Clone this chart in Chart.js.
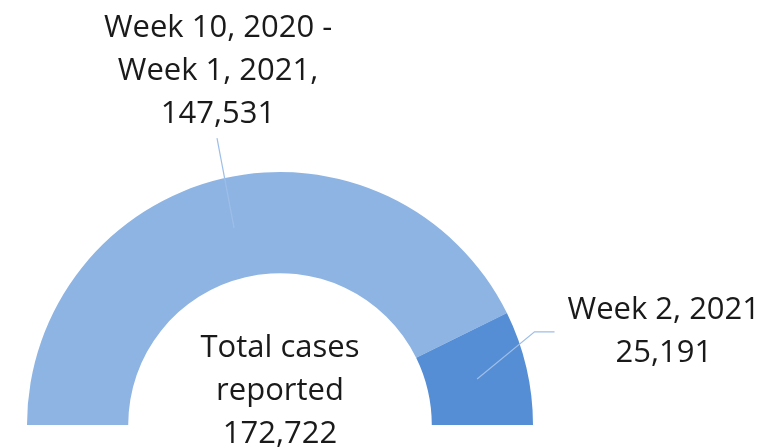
<!DOCTYPE html>
<html>
<head>
<meta charset="utf-8">
<script src="https://cdn.jsdelivr.net/npm/chart.js@4"></script>
<style>
html,body{margin:0;padding:0;background:#fff;}
#wrap{width:766px;height:447px;}
</style>
</head>
<body>
<div id="wrap"><canvas id="c" width="766" height="447"></canvas></div>
<script>
const categories = [["Week 10, 2020 -", "Week 1, 2021,"], ["Week 2, 2021"]];
const values = [147531, 25191];
const centerLines = ["Total cases", "reported"];
const colors = ['#8EB4E3', '#558ED5'];

const fmt = v => v.toLocaleString('en-US');
const total = values.reduce((a, b) => a + b, 0);
const FONT = '31px "Open Sans"';
const LH = 43;

const labelPlugin = {
  id: 'labels',
  afterDatasetsDraw(chart) {
    const ctx = chart.ctx;
    const arcs = chart.getDatasetMeta(0).data;
    ctx.save();
    ctx.font = FONT;
    ctx.fillStyle = '#1a1a1a';
    ctx.textAlign = 'center';
    ctx.textBaseline = 'alphabetic';
    const a0 = arcs[0];
    const cx = a0.x, cy = a0.y, R = a0.outerRadius, r = a0.innerRadius;
    const midR = (R + r) / 2;
    ctx.strokeStyle = '#9DBEE8';
    ctx.lineWidth = 1.2;
    // slice 1
    {
      const a = arcs[0], m = (a.startAngle + a.endAngle) / 2;
      const px = cx + Math.cos(m) * midR, py = cy + Math.sin(m) * midR;
      const ex = cx - R * 0.249, ey = cy - R * 1.134;
      ctx.beginPath(); ctx.moveTo(px, py); ctx.lineTo(ex, ey); ctx.stroke();
      const lx = cx - R * 0.245;
      const lines = categories[0].concat([fmt(values[0])]);
      lines.forEach((t, i) => ctx.fillText(t, lx, cy - R * 1.534 + i * LH));
    }
    // slice 2
    {
      const a = arcs[1], m = (a.startAngle + a.endAngle) / 2;
      const px = cx + Math.cos(m) * midR, py = cy + Math.sin(m) * midR;
      const kx = cx + R * 1.006, ky = cy - R * 0.368;
      ctx.beginPath(); ctx.moveTo(px, py); ctx.lineTo(kx, ky); ctx.lineTo(kx + 20, ky); ctx.stroke();
      const lx = cx + R * 1.517;
      const lines = categories[1].concat([fmt(values[1])]);
      lines.forEach((t, i) => ctx.fillText(t, lx, cy - R * 0.419 + i * LH));
    }
    // center text
    const cl = centerLines.concat([fmt(total)]);
    cl.forEach((t, i) => ctx.fillText(t, cx, cy - R * 0.269 + i * LH));
    ctx.restore();
  }
};

new Chart(document.getElementById('c'), {
  type: 'doughnut',
  data: {
    labels: categories.map(c => c.join(' ')),
    datasets: [{
      data: values,
      backgroundColor: colors,
      borderWidth: 0,
      hoverOffset: 0
    }]
  },
  options: {
    responsive: false,
    animation: false,
    rotation: -90,
    circumference: 180,
    cutout: '60%',
    layout: { padding: { left: 27, right: 233, top: 172, bottom: 22 } },
    plugins: { legend: { display: false }, tooltip: { enabled: false } },
    events: []
  },
  plugins: [labelPlugin]
});
</script>
</body>
</html>
